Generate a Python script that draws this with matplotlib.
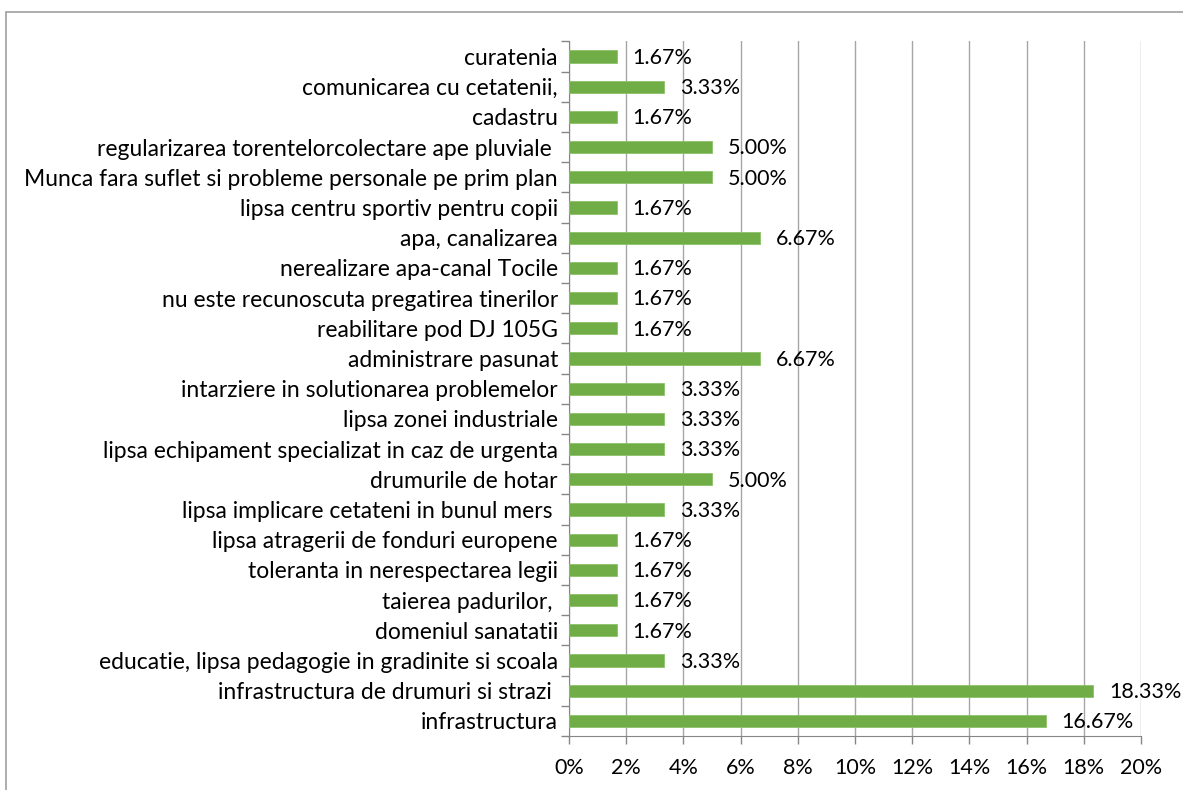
import matplotlib
matplotlib.use("Agg")
import matplotlib.pyplot as plt
from matplotlib.patches import Rectangle
from matplotlib.ticker import FixedLocator

categories = [
    "curatenia",
    "comunicarea cu cetatenii,",
    "cadastru",
    "regularizarea torentelorcolectare ape pluviale ",
    "Munca fara suflet si probleme personale pe prim plan",
    "lipsa centru sportiv pentru copii",
    "apa, canalizarea",
    "nerealizare apa-canal Tocile",
    "nu este recunoscuta pregatirea tinerilor",
    "reabilitare pod DJ 105G",
    "administrare pasunat",
    "intarziere in solutionarea problemelor",
    "lipsa zonei industriale",
    "lipsa echipament specializat in caz de urgenta",
    "drumurile de hotar",
    "lipsa implicare cetateni in bunul mers ",
    "lipsa atragerii de fonduri europene",
    "toleranta in nerespectarea legii",
    "taierea padurilor, ",
    "domeniul sanatatii",
    "educatie, lipsa pedagogie in gradinite si scoala",
    "infrastructura de drumuri si strazi ",
    "infrastructura",
]
values = [1.67, 3.33, 1.67, 5.00, 5.00, 1.67, 6.67, 1.67, 1.67, 1.67, 6.67,
          3.33, 3.33, 3.33, 5.00, 3.33, 1.67, 1.67, 1.67, 1.67, 3.33, 18.33, 16.67]
xticks = [0, 2, 4, 6, 8, 10, 12, 14, 16, 18, 20]

plt.rcParams['font.family'] = ['Lato', 'DejaVu Sans']

fig = plt.figure(figsize=(11.83, 7.90), dpi=100)
ax = fig.add_axes([0.481, 0.0684, 0.4835, 0.8792])

n = len(categories)
ypos = list(range(n - 1, -1, -1))
ax.barh(ypos, values, height=0.4, color="#70AD47", edgecolor="#8CC168", linewidth=0.6, zorder=3)

for y, v in zip(ypos, values):
    ax.annotate(f"{v:.2f}%", xy=(v, y), xytext=(11.5, -1), textcoords="offset points",
                ha="left", va="center", fontsize=15.5, color="black", zorder=4)

ax.set_xlim(0, 20)
ax.set_ylim(-0.5, n - 0.5)
ax.set_xticks(xticks)
ax.set_xticklabels([f"{t}%" for t in xticks], fontsize=15.5)
ax.set_yticks(ypos)
ax.set_yticklabels(categories, fontsize=16.5)
ax.yaxis.set_minor_locator(FixedLocator([i - 0.5 for i in range(n + 1)]))
ax.tick_params(axis="y", which="major", length=0, pad=8)
ax.tick_params(axis="y", which="minor", length=6, color="#868686", width=1)
ax.tick_params(axis="x", length=6, color="#868686", width=1, pad=10)

ax.grid(axis="x", color="#A6A6A6", linewidth=1, zorder=0)
for s in ["top", "right"]:
    ax.spines[s].set_visible(False)
ax.spines["left"].set_color("#868686")
ax.spines["bottom"].set_color("#868686")

fig.add_artist(Rectangle((6 / 1183, -0.1), 1.2, 1 - 12 / 790 + 0.1, transform=fig.transFigure,
                         fill=False, edgecolor="#A0A0A0", linewidth=1.2))

fig.savefig("out.png", dpi=100)
